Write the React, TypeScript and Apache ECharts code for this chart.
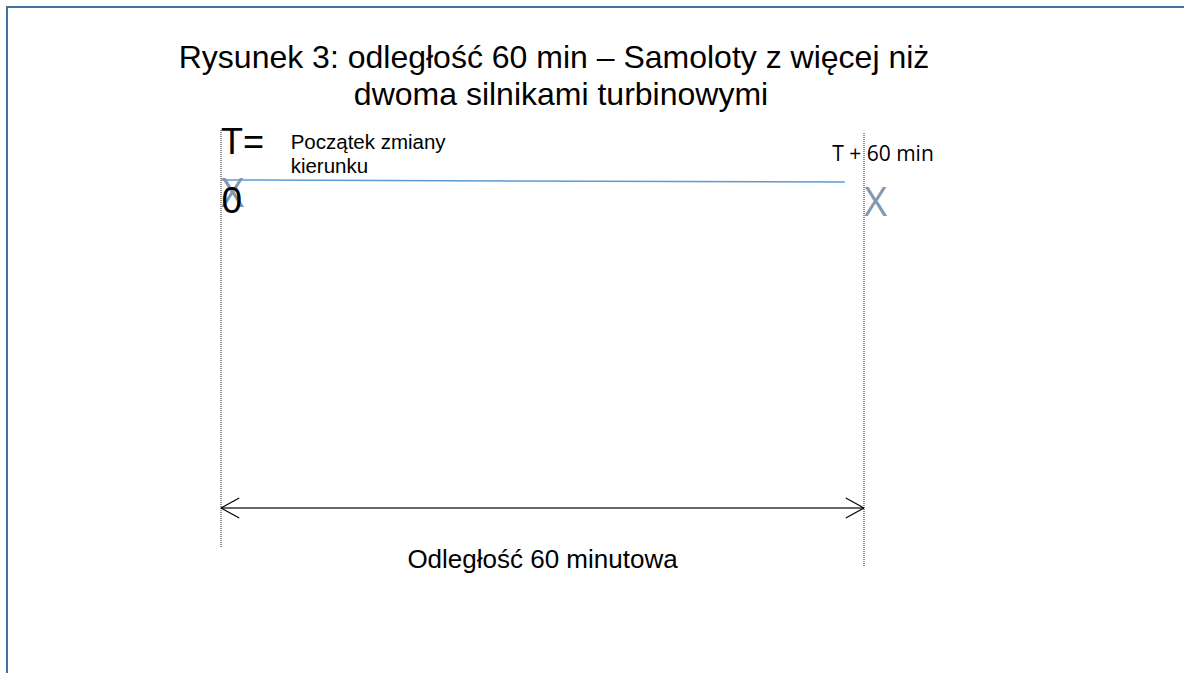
import React, { useEffect, useRef } from "react";
import * as echarts from "echarts";

// ---- data (minutes along the route) ----
const timeRange = [0, 60];
const markerTimes = [0, 60];
const startLabels = ["T=", "0"];
const endLabel = "T + 60 min";
const startNote = "Początek zmiany\nkierunku";
const spanLabel = "Odległość 60 minutowa";
const trackTimes = [0, 58.2];
const titleLines = ["Rysunek 3: odległość 60 min – Samoloty z więcej niż", "dwoma silnikami turbinowymi"];
const markerGlyph = "X";

// ---- layout (vertical rows of the diagram, in page units) ----
const ROW = {
  guideTop: [130, 133],
  guideBottom: [548, 567],
  track: [180, 182],
  arrow: 508,
  tEq: 141,
  zero: 200,
  xMark: [191, 200],
  note: 153,
  endLabel: 153,
  span: 559,
};
const HEAD_T = 1.7; // arrowhead length in minutes
const HEAD_H = 10;

const ARIAL = "'Liberation Sans', Arial, sans-serif";
const OPEN = "'Open Sans', sans-serif";

function textPoint(x: number, y: number, text: string, opts: any, z = 5) {
  return {
    type: "scatter",
    z,
    symbolSize: 1,
    itemStyle: { color: "rgba(0,0,0,0)" },
    silent: true,
    data: [[x, y]],
    label: {
      show: true,
      position: "inside",
      formatter: () => text,
      align: "left",
      verticalAlign: "middle",
      color: "#000",
      textBorderWidth: 0,
      textBorderColor: "transparent",
      opacity: 1,
      fontFamily: ARIAL,
      ...opts,
    },
  };
}

export default function App() {
  const ref = useRef<HTMLDivElement>(null);
  useEffect(() => {
    if (!ref.current) return;
    const chart = echarts.init(ref.current, null, { renderer: "svg" });
    const [t0, t1] = markerTimes;
    const series: any[] = [];
    // dotted guide lines
    markerTimes.forEach((t, i) => {
      series.push({
        type: "line",
        symbol: "none",
        silent: true,
        data: [
          [t, ROW.guideTop[i]],
          [t, ROW.guideBottom[i]],
        ],
        lineStyle: { color: "#222", width: 1, type: [1, 1] },
      });
    });
    // blue track
    series.push({
      type: "line",
      symbol: "none",
      silent: true,
      data: [
        [trackTimes[0], ROW.track[0]],
        [trackTimes[1], ROW.track[1]],
      ],
      lineStyle: { color: "#5b9bd5", width: 1.5 },
    });
    // double arrow shaft
    series.push({
      type: "line",
      symbol: "none",
      silent: true,
      data: [
        [t0, ROW.arrow],
        [t1, ROW.arrow],
      ],
      lineStyle: { color: "#333", width: 1.4 },
    });
    // arrow heads (open chevrons)
    series.push({
      type: "line",
      symbol: "none",
      silent: true,
      data: [
        [t0 + HEAD_T, ROW.arrow - HEAD_H],
        [t0, ROW.arrow],
        [t0 + HEAD_T, ROW.arrow + HEAD_H],
      ],
      lineStyle: { color: "#000", width: 1.2 },
    });
    series.push({
      type: "line",
      symbol: "none",
      silent: true,
      data: [
        [t1 - HEAD_T, ROW.arrow - HEAD_H],
        [t1, ROW.arrow],
        [t1 - HEAD_T, ROW.arrow + HEAD_H],
      ],
      lineStyle: { color: "#000", width: 1.2 },
    });
    // markers X
    series.push(textPoint(t0, ROW.xMark[0], markerGlyph, { fontFamily: OPEN, fontSize: 40, color: "#8497b0" }, 4));
    series.push(textPoint(t1, ROW.xMark[1], markerGlyph, { fontFamily: OPEN, fontSize: 40, color: "#8497b0" }, 4));
    // labels
    series.push(textPoint(t0, ROW.tEq, startLabels[0], { fontSize: 36 }, 6));
    series.push(textPoint(t0 + 0.05, ROW.zero, startLabels[1], { fontSize: 37 }, 6));
    series.push(textPoint(t0 + 6.5, ROW.note, startNote, { fontSize: 20.5, lineHeight: 24 }, 6));
    series.push(
      textPoint(t1, ROW.endLabel, endLabel, { fontFamily: OPEN, fontSize: 21, align: "center", offset: [19, 0] }, 6)
    );
    series.push(textPoint((t0 + t1) / 2, ROW.span, spanLabel, { fontSize: 26, align: "center" }, 6));

    chart.setOption({
      animation: false,
      backgroundColor: "#fff",
      grid: { left: 221, right: 1184 - 864, top: 0, bottom: 0 },
      xAxis: { type: "value", min: timeRange[0], max: timeRange[1], show: false },
      yAxis: { type: "value", min: 0, max: 673, inverse: true, show: false },
      graphic: [
        {
          type: "rect",
          shape: { x: 7, y: 7, width: 1200, height: 700 },
          style: { fill: "none", stroke: "#41719c", lineWidth: 2 },
          silent: true,
        },
        {
          type: "text",
          x: 554,
          y: 57,
          style: {
            text: titleLines[0],
            font: `32px ${ARIAL}`,
            fill: "#000",
            textAlign: "center",
            textVerticalAlign: "middle",
          },
        },
        {
          type: "text",
          x: 561,
          y: 94,
          style: {
            text: titleLines[1],
            font: `32px ${ARIAL}`,
            fill: "#000",
            textAlign: "center",
            textVerticalAlign: "middle",
          },
        },
      ],
      series,
    });
    return () => chart.dispose();
  }, []);
  return <div ref={ref} style={{ position: "absolute", left: 0, top: 0, width: 1184, height: 673 }} />;
}
